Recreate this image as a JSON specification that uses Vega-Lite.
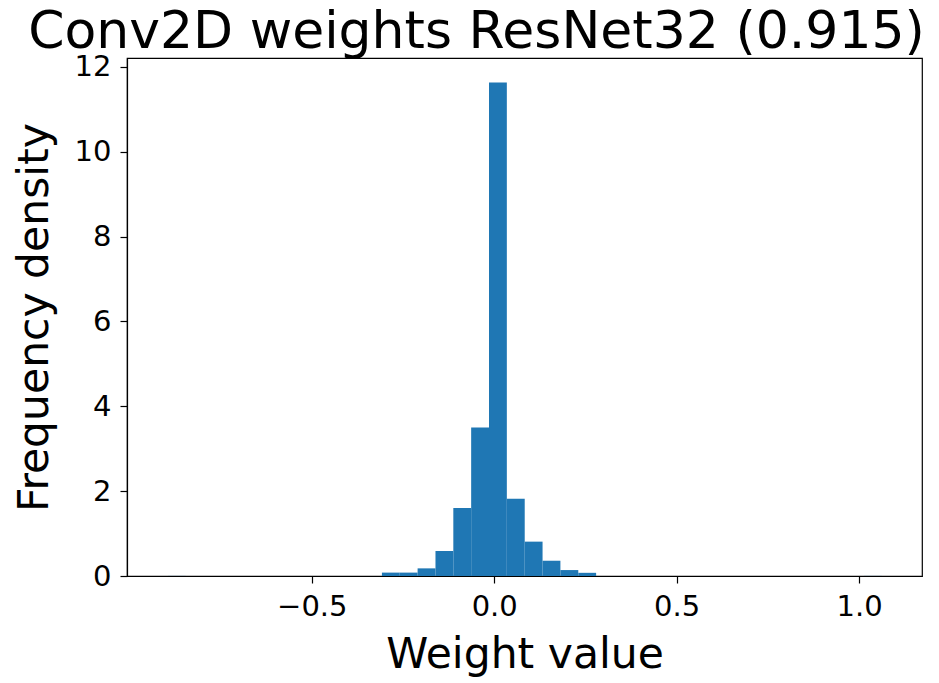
{
  "$schema": "https://vega.github.io/schema/vega-lite/v6.json",
  "autosize": "none",
  "width": 795,
  "height": 518,
  "padding": {"left": 127, "top": 58, "right": 17, "bottom": 107},
  "background": "white",
  "title": {
    "text": "Conv2D weights ResNet32 (0.915)",
    "font": "DejaVu Sans",
    "fontSize": 52,
    "fontWeight": "normal",
    "color": "black",
    "anchor": "middle",
    "dx": -48,
    "baseline": "bottom",
    "offset": -58
  },
  "data": {
    "values": [
      {"start": -0.8950, "end": -0.8461, "density": 0.002},
      {"start": -0.3078, "end": -0.2589, "density": 0.08},
      {"start": -0.2589, "end": -0.2100, "density": 0.08},
      {"start": -0.2100, "end": -0.1610, "density": 0.18},
      {"start": -0.1610, "end": -0.1121, "density": 0.59},
      {"start": -0.1121, "end": -0.0632, "density": 1.60},
      {"start": -0.0632, "end": -0.0143, "density": 3.50},
      {"start": -0.0143, "end": 0.0346, "density": 11.63},
      {"start": 0.0346, "end": 0.0836, "density": 1.82},
      {"start": 0.0836, "end": 0.1325, "density": 0.81},
      {"start": 0.1325, "end": 0.1814, "density": 0.36},
      {"start": 0.1814, "end": 0.2304, "density": 0.14},
      {"start": 0.2304, "end": 0.2793, "density": 0.075},
      {"start": 1.0133, "end": 1.0622, "density": 0.002}
    ]
  },
  "mark": {"type": "bar", "color": "#1f77b4", "opacity": 1, "orient": "vertical"},
  "encoding": {
    "x": {
      "field": "start",
      "type": "quantitative",
      "scale": {"domain": [-0.9928, 1.1588], "nice": false, "zero": false},
      "axis": {
        "title": "Weight value",
        "values": [-0.5, 0, 0.5, 1.0],
        "format": ".1f",
        "grid": false
      }
    },
    "x2": {"field": "end"},
    "y": {
      "field": "density",
      "type": "quantitative",
      "scale": {"domain": [0, 12.21], "nice": false},
      "axis": {
        "title": "Frequency density",
        "values": [0, 2, 4, 6, 8, 10, 12],
        "format": "d",
        "grid": false
      }
    },
    "y2": {"datum": 0}
  },
  "config": {
    "view": {"stroke": "black", "strokeWidth": 1.2},
    "axis": {
      "labelFont": "DejaVu Sans",
      "labelFontSize": 29,
      "labelColor": "black",
      "titleFont": "DejaVu Sans",
      "titleFontSize": 42.5,
      "titleFontWeight": "normal",
      "titleColor": "black",
      "domainColor": "black",
      "domainWidth": 1.2,
      "tickColor": "black",
      "tickWidth": 1.2,
      "tickSize": 7,
      "labelPadding": 9
    },
    "axisX": {"titlePadding": 12, "labelFlush": false},
    "axisY": {"titlePadding": 18, "labelFlush": false}
  }
}
